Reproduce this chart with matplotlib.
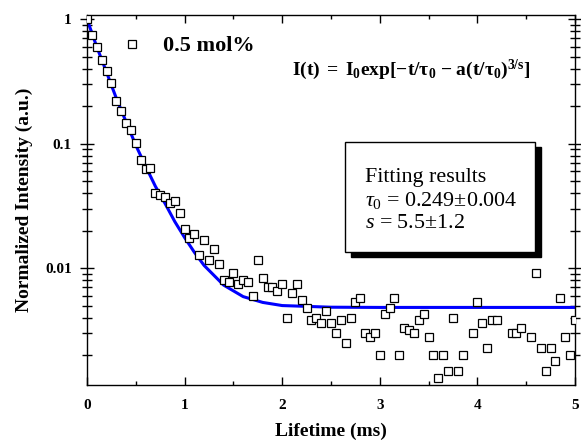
import numpy as np
import matplotlib
matplotlib.use("Agg")
import matplotlib.pyplot as plt
from matplotlib.ticker import LogLocator, FixedLocator, FixedFormatter, MultipleLocator, NullFormatter
from matplotlib.patches import Rectangle

plt.rcParams['font.family'] = ['Liberation Serif', 'DejaVu Serif']
plt.rcParams['mathtext.fontset'] = 'custom'
plt.rcParams['mathtext.rm'] = 'Liberation Serif'
plt.rcParams['mathtext.it'] = 'Liberation Serif:italic'
plt.rcParams['mathtext.bf'] = 'Liberation Serif:bold'

# decay data, sampled every 0.05 ms
lifetime = np.round(np.arange(0, 5.001, 0.05), 2)
intensity = [
    1.0, 0.744, 0.599, 0.469, 0.385, 0.308, 0.221, 0.183, 0.146, 0.128,
    0.101, 0.0737, 0.0624, 0.0639, 0.0403, 0.0386, 0.0374, 0.0331, 0.0347, 0.0279,
    0.0208, 0.0176, 0.0188, 0.0127, 0.0168, 0.0117, 0.0142, 0.0108, 0.0080, 0.0078,
    0.0092, 0.0075, 0.0080, 0.0078, 0.0060, 0.0117, 0.0083, 0.0071, 0.0071, 0.0065,
    0.0075, 0.0040, 0.0063, 0.0075, 0.0055, 0.0048, 0.0038, 0.0040, 0.0036, 0.0045,
    0.0036, 0.0030, 0.0038, 0.0025, 0.0040, 0.0053, 0.0058, 0.0030, 0.0028, 0.0030,
    0.0020, 0.0043, 0.0048, 0.0058, 0.0020, 0.0033, 0.0032, 0.0030, 0.0038, 0.0043,
    0.0028, 0.0020, 0.0013, 0.0020, 0.0015, 0.0040, 0.0015, 0.0020, 0.0009, 0.0030,
    0.0053, 0.0036, 0.0023, 0.0038, 0.0038, 0.0009, 0.0009, 0.0030, 0.0030, 0.0033,
    0.0009, 0.0028, 0.0092, 0.0023, 0.0015, 0.0023, 0.0018, 0.0058, 0.0028, 0.0020,
    0.0038,
]

# fitted curve
fit_t = [0, 0.1, 0.2, 0.3, 0.4, 0.5, 0.6, 0.7, 0.8, 0.9, 1.0, 1.1, 1.2, 1.4, 1.6, 1.8, 2.0, 2.5, 3.0, 4.0, 5.0]
fit_v = [1.0, 0.60, 0.375, 0.232, 0.150, 0.097, 0.066, 0.0455, 0.033, 0.0236, 0.0176, 0.0134, 0.0105,
         0.0073, 0.0059, 0.0053, 0.0050, 0.00485, 0.00483, 0.00483, 0.00483]

fig = plt.figure(figsize=(5.81, 4.42), dpi=100)
ax = fig.add_axes([87/581, 1-385/442, 488/581, 370/442])

ax.plot(fit_t, fit_v, color='#0000ff', lw=2.2, zorder=2)
ax.plot(lifetime, intensity, ls='none', marker='s', ms=6.3, mfc='white', mec='black',
        mew=0.9, zorder=3, label='0.5 mol%')

ax.set_yscale('log')
ax.set_xlim(0, 5)
ax.set_ylim(0.00115, 1.08)

ax.xaxis.set_major_locator(MultipleLocator(1))
ax.xaxis.set_minor_locator(MultipleLocator(0.5))
ax.yaxis.set_major_locator(FixedLocator([0.01, 0.1, 1]))
ax.yaxis.set_major_formatter(FixedFormatter(['0.01', '0.1', '1']))
ax.yaxis.set_minor_locator(LogLocator(base=10, subs=np.arange(2, 10)))
ax.yaxis.set_minor_formatter(NullFormatter())

ax.tick_params(axis='x', which='both', direction='in', top=True, width=1.0)
ax.tick_params(axis='x', which='major', length=6, pad=10, labelsize=11)
ax.tick_params(axis='x', which='minor', length=3)
ax.tick_params(axis='y', which='both', direction='inout', right=True, width=1.0)
ax.tick_params(axis='y', which='major', length=10, pad=6, labelsize=11)
ax.tick_params(axis='y', which='minor', length=6.5)
for lab in ax.get_xticklabels() + ax.get_yticklabels():
    lab.set_fontweight('bold')
for s in ax.spines.values():
    s.set_linewidth(1.0)

ax.set_xlabel('Lifetime (ms)', fontsize=14, fontweight='bold')
ax.set_ylabel('Normalized Intensity (a.u.)', fontsize=14, fontweight='bold')
ax.xaxis.set_label_coords(0.5, -0.103)
ax.yaxis.set_label_coords(-0.111, 0.5)

ax.legend(loc='center left', bbox_to_anchor=(0.0697, 0.916), frameon=False,
          borderpad=0, borderaxespad=0, handlelength=1.0, handletextpad=0.9,
          prop={'family': 'Liberation Serif', 'weight': 'bold', 'size': 16})

ax.text(0.42, 0.851, r'$\mathbf{I(t)\ =\ I_0exp[{-}t/\tau_0\ {-}\ a(t/\tau_0)^{3/s}]}$',
        transform=ax.transAxes, fontsize=14, va='center', ha='left')

# fitting results box with drop shadow
bx0, by0, bw, bh = 258/488, (385-252.3)/370, 190/488, 110.6/370
ax.add_patch(Rectangle((bx0 + 6/488, by0 - 5/370), bw, bh, transform=ax.transAxes,
                       facecolor='black', edgecolor='black', zorder=4))
ax.add_patch(Rectangle((bx0, by0), bw, bh, transform=ax.transAxes,
                       facecolor='white', edgecolor='black', lw=1.0, zorder=5))
ax.text(0.57, 0.562, 'Fitting results', transform=ax.transAxes, fontsize=15.8,
        va='center', zorder=6)
ax.text(0.57, 0.4986, r'$\tau_0$ = 0.249±0.004', transform=ax.transAxes, fontsize=15.8,
        va='center', zorder=6)
ax.text(0.57, 0.4365, r'$s$ = 5.5±1.2', transform=ax.transAxes, fontsize=15.8,
        va='center', zorder=6)

fig.savefig('out.png', dpi=100)
